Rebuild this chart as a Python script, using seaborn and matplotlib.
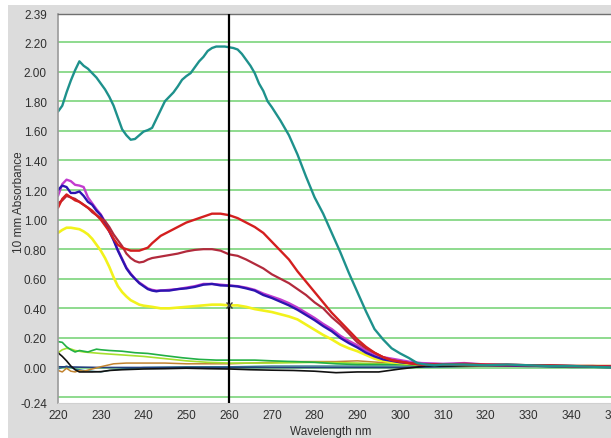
import numpy as np
import pandas as pd
import matplotlib
matplotlib.use("Agg")
import matplotlib.pyplot as plt
from matplotlib.patches import Rectangle
from matplotlib.ticker import FixedLocator
import seaborn as sns

# ---------------- data ----------------
wl_teal = [220,221,222,223,224,225,226,227,228,229,230,231,232,233,234,235,236,237,238,239,240,241,242,243,244,245,246,247,248,249,250,251,252,253,254,255,256,257,258,259,260,261,262,263,264,265,266,267,268,269,270,272,274,276,278,280,282,284,286,288,290,292,294,296,298,300,302,304,306,308,310,315,320,325,330,335,340,345,350]
abs_teal = [1.73,1.77,1.86,1.94,2.01,2.07,2.04,2.02,1.99,1.96,1.92,1.88,1.83,1.77,1.69,1.61,1.57,1.54,1.545,1.57,1.595,1.605,1.62,1.68,1.74,1.80,1.83,1.86,1.90,1.945,1.97,1.99,2.03,2.07,2.10,2.14,2.16,2.17,2.17,2.17,2.165,2.16,2.15,2.12,2.08,2.04,1.99,1.92,1.87,1.80,1.76,1.67,1.57,1.44,1.29,1.15,1.04,0.91,0.78,0.64,0.51,0.38,0.26,0.19,0.13,0.095,0.065,0.03,0.02,0.015,0.02,0.02,0.015,0.02,0.015,0.01,0.01,0.005,0.0]

wl_red = [220,221,222,223,224,225,226,228,230,231,232,233,234,235,236,237,238,239,240,241,242,244,246,248,250,252,254,256,257,258,260,262,264,266,268,270,272,274,276,278,280,282,284,286,288,290,292,294,296,298,300,302,305,310,315,320,325,330,335,340,345,350]
abs_red = [1.08,1.14,1.17,1.15,1.13,1.12,1.10,1.06,1.00,0.96,0.92,0.87,0.83,0.81,0.80,0.79,0.79,0.79,0.80,0.81,0.84,0.89,0.92,0.95,0.98,1.00,1.02,1.04,1.04,1.04,1.03,1.01,0.98,0.95,0.91,0.85,0.79,0.73,0.65,0.58,0.51,0.44,0.37,0.31,0.25,0.19,0.14,0.10,0.07,0.05,0.04,0.03,0.02,0.02,0.025,0.02,0.02,0.015,0.015,0.01,0.01,0.005]

wl_maroon = [220,221,222,223,224,225,226,227,228,230,231,232,233,234,235,236,237,238,239,240,241,242,244,246,248,250,252,254,256,258,260,262,264,266,268,270,272,274,276,278,280,282,284,286,288,290,292,294,296,298,300,302,305,310,320,330,340,350]
abs_maroon = [1.11,1.13,1.16,1.15,1.14,1.12,1.10,1.08,1.05,1.01,0.99,0.95,0.90,0.86,0.82,0.77,0.74,0.72,0.71,0.715,0.73,0.74,0.75,0.76,0.77,0.785,0.795,0.80,0.80,0.79,0.765,0.755,0.73,0.70,0.67,0.63,0.60,0.57,0.53,0.49,0.44,0.40,0.34,0.29,0.23,0.17,0.13,0.10,0.07,0.05,0.04,0.03,0.02,0.02,0.015,0.015,0.01,0.005]

wl_blue = [220,221,222,223,224,225,226,227,228,229,230,231,232,233,234,235,236,237,238,239,240,241,242,243,244,246,248,250,252,254,256,258,260,262,264,266,268,270,272,274,276,278,280,282,284,286,288,290,292,294,296,298,300,302,305,310,320,330,340,350]
abs_blue = [1.20,1.23,1.22,1.18,1.18,1.19,1.16,1.12,1.10,1.06,1.03,0.98,0.92,0.86,0.79,0.73,0.67,0.63,0.60,0.57,0.55,0.53,0.52,0.515,0.52,0.52,0.53,0.535,0.545,0.56,0.565,0.555,0.553,0.548,0.535,0.52,0.49,0.47,0.445,0.42,0.39,0.355,0.32,0.28,0.245,0.20,0.165,0.135,0.10,0.075,0.055,0.045,0.035,0.03,0.02,0.02,0.015,0.01,0.01,0.005]

wl_magenta = [220,221,222,223,224,225,226,227,228,229,230,231,232,233,234,235,236,237,238,239,240,241,242,243,244,246,248,250,252,254,256,258,260,262,264,266,268,270,272,274,276,278,280,282,284,286,288,290,292,294,296,298,300,302,305,310,315,320,330,340,350]
abs_magenta = [1.16,1.24,1.27,1.26,1.235,1.23,1.22,1.15,1.11,1.07,1.035,0.985,0.925,0.865,0.795,0.735,0.675,0.635,0.60,0.575,0.555,0.535,0.525,0.52,0.52,0.525,0.53,0.54,0.55,0.565,0.565,0.56,0.555,0.55,0.54,0.525,0.50,0.48,0.46,0.435,0.405,0.37,0.335,0.295,0.26,0.215,0.18,0.15,0.115,0.09,0.07,0.06,0.05,0.04,0.03,0.025,0.03,0.02,0.015,0.01,0.01]

wl_yellow = [220,221,222,223,224,225,226,227,228,229,230,231,232,233,234,235,236,237,238,239,240,242,244,246,248,250,252,254,256,258,260,262,264,266,268,270,272,274,276,278,280,282,284,286,288,290,292,294,296,298,300,305,310,320,330,340,350]
abs_yellow = [0.91,0.93,0.945,0.945,0.94,0.935,0.92,0.90,0.87,0.83,0.79,0.74,0.68,0.61,0.55,0.51,0.48,0.455,0.44,0.425,0.418,0.41,0.40,0.40,0.405,0.41,0.415,0.42,0.425,0.425,0.42,0.42,0.41,0.395,0.385,0.375,0.36,0.345,0.325,0.29,0.255,0.22,0.19,0.155,0.13,0.11,0.085,0.06,0.045,0.035,0.03,0.02,0.02,0.015,0.015,0.01,0.01]

wl_green = [220,221,222,223,224,225,226,227,228,229,230,232,235,238,241,245,249,253,257,260,263,266,270,275,280,285,290,295,300,305,310,320,330,340,350]
abs_green = [0.175,0.17,0.14,0.12,0.105,0.115,0.11,0.105,0.115,0.124,0.12,0.115,0.11,0.10,0.095,0.08,0.066,0.055,0.05,0.05,0.05,0.05,0.045,0.04,0.035,0.025,0.02,0.02,0.02,0.015,0.015,0.02,0.015,0.01,0.005]

wl_lime = [220,221,222,223,224,226,228,230,235,240,245,250,255,260,265,270,280,290,300,310,320,330,340,350]
abs_lime = [0.10,0.12,0.13,0.125,0.115,0.105,0.10,0.095,0.085,0.075,0.06,0.045,0.035,0.03,0.03,0.03,0.035,0.03,0.02,0.015,0.015,0.01,0.01,0.005]

wl_black = [220,221,222,223,224,225,226,228,230,232,235,240,245,250,255,260,265,270,275,280,285,290,295,300,303,306,310,320,330,340,350]
abs_black = [0.10,0.075,0.045,0.01,-0.015,-0.03,-0.03,-0.03,-0.028,-0.02,-0.015,-0.01,-0.008,-0.005,-0.008,-0.01,-0.015,-0.018,-0.02,-0.025,-0.035,-0.03,-0.03,-0.01,0.0,0.01,0.01,0.01,0.01,0.005,0.0]

wl_orange = [220,221,222,223,224,225,226,228,230,233,236,240,245,250,255,260,265,270,275,280,285,290,295,300,305,310,320,330,340,350]
abs_orange = [-0.02,-0.03,-0.005,-0.025,-0.03,-0.02,-0.025,-0.01,0.005,0.025,0.03,0.03,0.03,0.025,0.025,0.025,0.03,0.035,0.04,0.04,0.04,0.045,0.035,0.03,0.02,0.02,0.02,0.015,0.01,0.005]

wl_navy = [220,230,240,250,260,270,280,290,300,310,320,330,340,350]
abs_navy = [0.005,0.0,0.0,0.0,0.0,0.0,0.0,0.0,0.0,0.005,0.01,0.01,0.01,0.005]

wl_cyanlow = [220,222,224,226,228,230,232,235,240,250,260,270,280,290,300,310,320,330,340,350]
abs_cyanlow = [-0.01,0.01,-0.01,-0.02,-0.025,-0.03,-0.02,-0.01,0.0,0.005,0.005,0.01,0.01,0.01,0.01,0.01,0.01,0.01,0.0,0.0]

cursor_wl = 260
cursor_abs = 0.42

ytick_vals = [-0.24, 0.0, 0.2, 0.4, 0.6, 0.8, 1.0, 1.2, 1.4, 1.6, 1.8, 2.0, 2.2, 2.39]
grid_vals = [-0.2, 0.0, 0.2, 0.4, 0.6, 0.8, 1.0, 1.2, 1.4, 1.6, 1.8, 2.0, 2.2]
xtick_vals = [220, 230, 240, 250, 260, 270, 280, 290, 300, 310, 320, 330, 340, 350]

# ---------------- figure ----------------
sns.set_style("white")
plt.rcParams['font.family'] = ['Liberation Sans', 'DejaVu Sans']

W, H = 611, 439
fig = plt.figure(figsize=(W / 100, H / 100), dpi=100, facecolor="white")
bg = Rectangle((8 / W, 0), 1, (H - 6) / H, transform=fig.transFigure,
               facecolor="#dcdcdc", edgecolor="none", zorder=-10)
fig.add_artist(bg)

left_px, right_px, top_px, bottom_px = 58, 614, 15, 404
ax = fig.add_axes([left_px / W, (H - bottom_px) / H,
                   (right_px - left_px) / W, (bottom_px - top_px) / H])
ax.set_zorder(1)
ax.set_facecolor("white")

series = [
    (wl_cyanlow, abs_cyanlow, "#2f7f8c", 1.0),
    (wl_navy, abs_navy, "#23407e", 1.2),
    (wl_orange, abs_orange, "#c2832f", 1.1),
    (wl_lime, abs_lime, "#a6e02e", 1.2),
    (wl_green, abs_green, "#22b045", 1.2),
    (wl_black, abs_black, "#111111", 1.2),
    (wl_yellow, abs_yellow, "#f2f21c", 1.9),
    (wl_magenta, abs_magenta, "#c23ccf", 1.7),
    (wl_blue, abs_blue, "#2c14b0", 1.7),
    (wl_maroon, abs_maroon, "#b22a3c", 1.6),
    (wl_red, abs_red, "#d41f1f", 1.7),
    (wl_teal, abs_teal, "#1e918c", 1.7),
]
for wl, ab, col, lw in series:
    df = pd.DataFrame({"wl": wl, "abs": ab})
    sns.lineplot(data=df, x="wl", y="abs", color=col, linewidth=lw,
                 sort=False, estimator=None, ax=ax, legend=False)

ax.axvline(cursor_wl, color="black", linewidth=1.6, zorder=5)
ax.plot([cursor_wl], [cursor_abs], marker="x", color="#404040",
        markersize=5, markeredgewidth=1.0, zorder=6)

ax.set_xlim(220, 350)
ax.set_ylim(-0.24, 2.39)

ax.set_yticks(ytick_vals)
ax.set_yticklabels([f"{v:.2f}" for v in ytick_vals])
ax.yaxis.set_minor_locator(FixedLocator(grid_vals))
ax.yaxis.remove_overlapping_locs = False
ax.grid(False)
ax.grid(which="minor", axis="y", color="#86d886", linewidth=1.3, zorder=0)
ax.set_axisbelow(True)
ax.tick_params(axis="y", which="both", length=0, pad=8, labelsize=8.5, colors="#303030")

ax.set_xticks(xtick_vals)
ax.set_xticklabels([str(v) for v in xtick_vals])
ax.tick_params(axis="x", which="major", length=3, width=1, color="#707070",
               pad=1.5, labelsize=8.5, labelcolor="#303030", direction="out")

ax.spines["left"].set_color("#9a9a9a")
ax.spines["left"].set_linewidth(1.2)
ax.spines["bottom"].set_color("#d0d0d0")
ax.spines["bottom"].set_linewidth(0.8)
ax.spines["top"].set_color("#707070")
ax.spines["top"].set_linewidth(1.0)
ax.spines["right"].set_visible(False)

ax.set_xlabel("Wavelength nm", fontsize=8.5, color="#303030")
ax.xaxis.set_label_coords((331 - left_px) / (right_px - left_px), -0.057)
ax.set_ylabel("10 mm Absorbance", fontsize=8.5, color="#303030")
ax.yaxis.set_label_coords(-(left_px - 25) / (right_px - left_px), 0.52)

fig.savefig("out.png", dpi=100, facecolor=fig.get_facecolor())
